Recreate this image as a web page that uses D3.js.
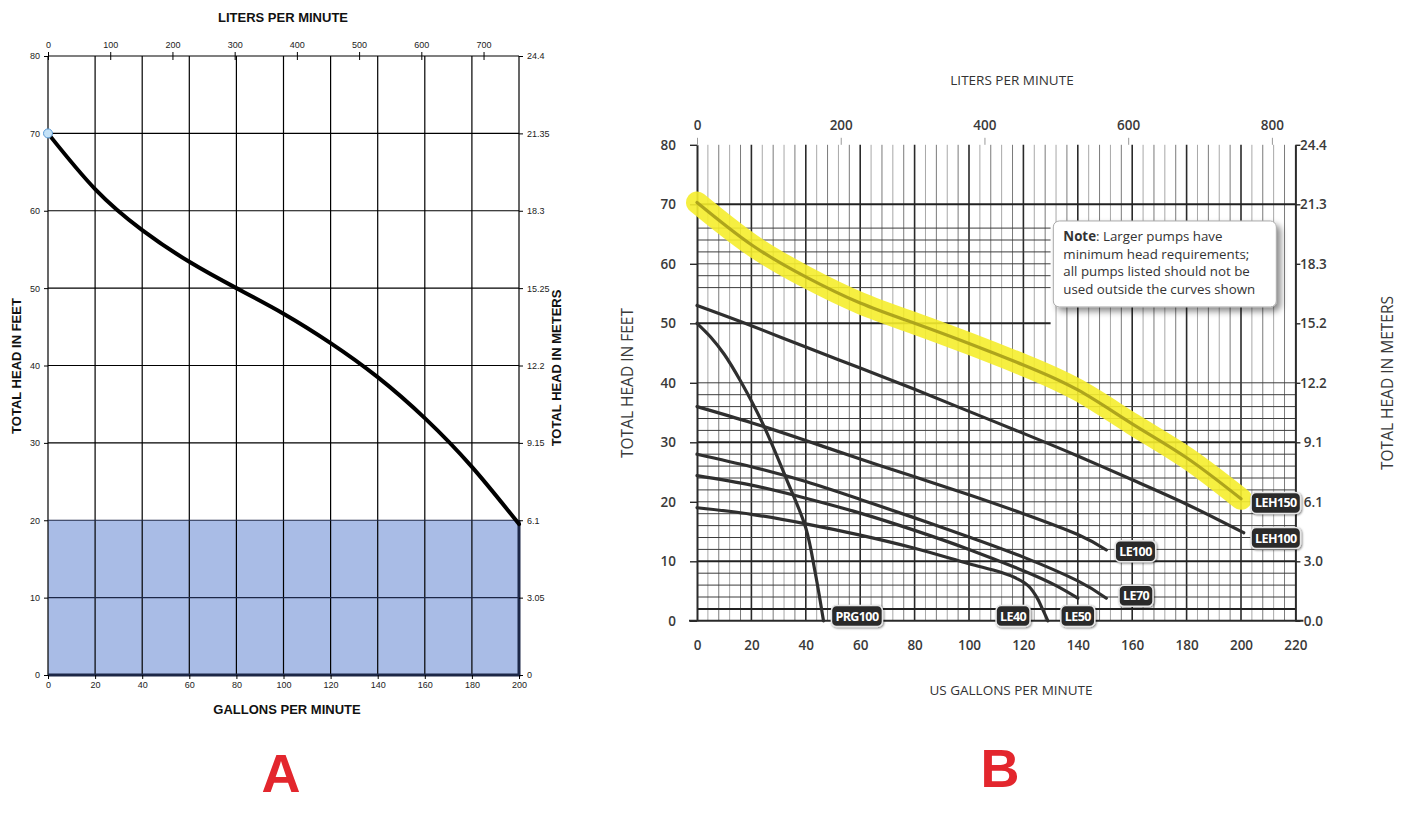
<!DOCTYPE html>
<html lang="en">
<head>
<meta charset="UTF-8">
<title>Pump performance curves</title>
<script src="https://d3js.org/d3.v7.min.js"></script>
<style>
  body { margin: 0; background: #fff; }
  svg { display: block; }
  .a-txt { font-family: Arial, "Liberation Sans", sans-serif; font-size: 9px; fill: #222; }
  .a-title { font-family: Arial, "Liberation Sans", sans-serif; font-size: 13px; font-weight: bold; fill: #111; }
  .b-txt { font-family: "Open Sans", sans-serif; font-size: 13.5px; font-weight: 600; fill: #3a3a3a; }
  .b-title { font-family: "Open Sans", sans-serif; font-size: 13.5px; fill: #333; }
  .b-vtitle { font-family: "Open Sans", sans-serif; font-size: 15.5px; fill: #3a3a3a; }
  .tag { font-family: "Open Sans", sans-serif; font-size: 12.5px; font-weight: 700; fill: #fff; letter-spacing: -0.6px; }
  .note { font-family: "Open Sans", sans-serif; font-size: 13.3px; fill: #333; }
  .big { font-family: Arial, "Liberation Sans", sans-serif; font-size: 54px; font-weight: bold; fill: #e3262d; }
</style>
</head>
<body>
<svg id="chart" width="1422" height="826"></svg>
<script>
const LITERS_PER_GAL = 3.785;

// ---------- chart A ----------
const gpmTicksA = [0, 20, 40, 60, 80, 100, 120, 140, 160, 180, 200];
const headTicksA = [0, 10, 20, 30, 40, 50, 60, 70, 80];
const litersTicksA = [0, 100, 200, 300, 400, 500, 600, 700];
const metersLabelsA = ["0", "3.05", "6.1", "9.15", "12.2", "15.25", "18.3", "21.35", "24.4"];
const curveGpmA = [0, 20, 40, 60, 80, 100, 120, 140, 160, 180, 200];
const curveHeadA = [70, 62.8, 57.5, 53.4, 50, 46.7, 42.9, 38.5, 33.2, 26.9, 19.5];
const minHeadA = 20;

// ---------- chart B ----------
const gpmTicksB = [0, 20, 40, 60, 80, 100, 120, 140, 160, 180, 200, 220];
const headTicksB = [0, 10, 20, 30, 40, 50, 60, 70, 80];
const litersTicksB = [0, 200, 400, 600, 800];
const metersLabelsB = ["0.0", "3.0", "6.1", "9.1", "12.2", "15.2", "18.3", "21.3", "24.4"];

const leh150Gpm = [0, 20, 40, 60, 80, 100, 120, 140, 160, 180, 200];
const leh150Head = [70.3, 63.2, 57.8, 53.4, 50, 46.6, 43, 38.8, 33.1, 27.4, 20.5];
const leh100Gpm = [0, 20, 40, 60, 80, 100, 120, 140, 160, 180, 201];
const leh100Head = [53, 49.6, 46, 42.5, 38.9, 35.2, 31.5, 27.7, 23.7, 19.6, 14.8];
const prg100Gpm = [0, 5, 10, 16, 24, 33, 40, 43.5, 46.5];
const prg100Head = [50, 47.7, 44.8, 40.3, 33.3, 23.7, 15.6, 8, 0];
const le100Gpm = [0, 20, 40, 60, 80, 100, 120, 140, 150.5];
const le100Head = [36, 33.3, 30.3, 27.2, 24.2, 21.2, 18.0, 14.5, 11.9];
const le70Gpm = [0, 20, 40, 60, 80, 100, 120, 140, 150.5];
const le70Head = [28, 25.9, 23.4, 20.4, 17.3, 14.1, 10.7, 6.7, 3.8];
const le50Gpm = [0, 20, 40, 60, 80, 100, 120, 132, 140];
const le50Head = [24.4, 22.8, 20.6, 18.1, 15.2, 12, 8.4, 5.9, 3.8];
const le40Gpm = [0, 20, 40, 60, 80, 100, 112, 118, 122, 125, 127, 129];
const le40Head = [19, 17.9, 16.3, 14.4, 12.2, 9.6, 8.1, 7.0, 5.8, 3.9, 2, 0];

const pumpNames = ["LEH150", "LEH100", "PRG100", "LE100", "LE70", "LE50", "LE40"];
const pumpGpm = [leh150Gpm, leh100Gpm, prg100Gpm, le100Gpm, le70Gpm, le50Gpm, le40Gpm];
const pumpHead = [leh150Head, leh100Head, prg100Head, le100Head, le70Head, le50Head, le40Head];
// where each name tag sits, in gpm / feet
const tagGpm = [212.8, 212.8, 58.8, 161.2, 161.4, 140, 116.2];
const tagHead = [19.8, 13.9, 0.8, 11.7, 4.2, 0.8, 0.8];

const noteLines = ["Larger pumps have", "minimum head requirements;", "all pumps listed should not be", "used outside the curves shown"];

const svg = d3.select("#chart");

const defs = svg.append("defs");
const sh = defs.append("filter").attr("id", "shadow").attr("x", "-20%").attr("y", "-20%").attr("width", "150%").attr("height", "160%");
sh.append("feDropShadow").attr("dx", 4).attr("dy", 4).attr("stdDeviation", 3).attr("flood-color", "#000").attr("flood-opacity", 0.45);
const sh2 = defs.append("filter").attr("id", "tagshadow").attr("x", "-20%").attr("y", "-30%").attr("width", "150%").attr("height", "170%");
sh2.append("feDropShadow").attr("dx", 1).attr("dy", 1).attr("stdDeviation", 1.2).attr("flood-color", "#000").attr("flood-opacity", 0.5);

// ================= chart A =================
const A = { left: 48, right: 519, top: 56, bottom: 675 };
const xA = d3.scaleLinear().domain([0, 200]).range([A.left, A.right]);
const yA = d3.scaleLinear().domain([0, 80]).range([A.bottom, A.top]);
const lA = d3.scaleLinear().domain([0, 200 * LITERS_PER_GAL]).range([A.left, A.right]);

const gA = svg.append("g");

gA.append("rect")
  .attr("x", xA(0)).attr("y", yA(minHeadA))
  .attr("width", xA(200) - xA(0)).attr("height", yA(0) - yA(minHeadA))
  .attr("fill", "#a9bce6");

gA.selectAll(".vgA").data(gpmTicksA).join("line")
  .attr("x1", d => xA(d)).attr("x2", d => xA(d))
  .attr("y1", yA(80)).attr("y2", yA(0))
  .attr("stroke", "#000").attr("stroke-width", 1.2);
gA.selectAll(".hgA").data(headTicksA).join("line")
  .attr("x1", xA(0)).attr("x2", xA(200))
  .attr("y1", d => yA(d)).attr("y2", d => yA(d))
  .attr("stroke", d => d <= minHeadA ? "#1c2747" : "#000").attr("stroke-width", 1.2);

// heavy outline on the shaded band
gA.append("path")
  .attr("d", `M${xA(0)},${yA(0)}H${xA(200)}V${yA(minHeadA)}`)
  .attr("fill", "none").attr("stroke", "#1c2747").attr("stroke-width", 3);

const lineA = d3.line().x(d => xA(d[0])).y(d => yA(d[1])).curve(d3.curveNatural);
gA.append("path")
  .datum(d3.zip(curveGpmA, curveHeadA))
  .attr("d", lineA)
  .attr("fill", "none").attr("stroke", "#000").attr("stroke-width", 4).attr("stroke-linecap", "round");

function styleA(g) {
  g.select(".domain").remove();
  g.selectAll("line").attr("stroke", "#000");
  g.selectAll("text").attr("class", "a-txt").attr("font-size", null).attr("font-family", null);
}
gA.append("g").attr("transform", `translate(${A.left},0)`)
  .call(d3.axisLeft(yA).tickValues(headTicksA).tickSize(4).tickPadding(4)).call(styleA);
gA.append("g").attr("transform", `translate(${A.right},0)`)
  .call(d3.axisRight(yA).tickValues(headTicksA).tickSize(4).tickPadding(4)
    .tickFormat((d, i) => metersLabelsA[i])).call(styleA);
gA.append("g").attr("transform", `translate(0,${A.bottom})`)
  .call(d3.axisBottom(xA).tickValues(gpmTicksA).tickSize(4).tickPadding(3)).call(styleA);
gA.append("g").attr("transform", `translate(0,${A.top})`)
  .call(d3.axisTop(lA).tickValues(litersTicksA).tickSize(4).tickPadding(4)).call(styleA)
  .selectAll(".tick line").attr("y1", 4);

gA.append("circle")
  .attr("cx", xA(curveGpmA[0])).attr("cy", yA(curveHeadA[0])).attr("r", 4.5)
  .attr("fill", "#c4e2f7").attr("stroke", "#5b9bd5").attr("stroke-width", 1);

gA.append("text").attr("class", "a-title").attr("x", 283).attr("y", 22).attr("text-anchor", "middle").text("LITERS PER MINUTE");
gA.append("text").attr("class", "a-title").attr("x", 287).attr("y", 714).attr("text-anchor", "middle").text("GALLONS PER MINUTE");
gA.append("text").attr("class", "a-title").attr("text-anchor", "middle")
  .attr("transform", "translate(21,366) rotate(-90)").text("TOTAL HEAD IN FEET");
gA.append("text").attr("class", "a-title").attr("text-anchor", "middle")
  .attr("transform", "translate(561,368) rotate(-90)").text("TOTAL HEAD IN METERS");

svg.append("text").attr("class", "big").attr("x", 281).attr("y", 792).attr("text-anchor", "middle").text("A");

// ================= chart B =================
const B = { left: 697, right: 1295.4, top: 144.8, bottom: 620.8 };
const xB = d3.scaleLinear().domain([0, 220]).range([B.left, B.right]);
const yB = d3.scaleLinear().domain([0, 80]).range([B.bottom, B.top]);
const lB = d3.scaleLinear().domain([0, 220 * LITERS_PER_GAL]).range([B.left, B.right]);

const gB = svg.append("g");

// vertical grid: every 4 gpm, darker every 20
const vMinor = d3.range(4, 220, 4).filter(d => d % 20 !== 0);
gB.selectAll(".vmB").data(vMinor).join("line")
  .attr("x1", d => xB(d)).attr("x2", d => xB(d))
  .attr("y1", yB(80)).attr("y2", yB(0))
  .attr("stroke", (d, i) => i % 2 ? "#7a7a7a" : "#a8a8a8").attr("stroke-width", 1);
gB.selectAll(".vMB").data(gpmTicksB.slice(1, -1)).join("line")
  .attr("x1", d => xB(d)).attr("x2", d => xB(d))
  .attr("y1", yB(80)).attr("y2", yB(0))
  .attr("stroke", "#2a2a2a").attr("stroke-width", 1.6);

// horizontal grid: every 2 ft up to 40, band 56-66, plus 50 and 70
const hFull = d3.range(2, 41, 2).concat([70]);
const hShort = d3.range(56, 67, 2).concat([50]);
const hMajor = [2, 10, 30, 50, 70];
gB.selectAll(".hfB").data(hFull).join("line")
  .attr("x1", xB(0)).attr("x2", xB(220))
  .attr("y1", d => yB(d)).attr("y2", d => yB(d))
  .attr("stroke", d => hMajor.includes(d) ? "#222" : "#3c3c3c")
  .attr("stroke-width", d => hMajor.includes(d) ? 2 : 1);
gB.selectAll(".hsB").data(hShort).join("line")
  .attr("x1", xB(0)).attr("x2", xB(130))
  .attr("y1", d => yB(d)).attr("y2", d => yB(d))
  .attr("stroke", d => hMajor.includes(d) ? "#222" : "#3c3c3c")
  .attr("stroke-width", d => hMajor.includes(d) ? 2 : 1);

function styleB(g) {
  g.select(".domain").attr("stroke", "#2a2a2a").attr("stroke-width", 2);
  g.selectAll(".tick line").attr("stroke", "#2a2a2a").attr("stroke-width", 1.4);
  g.selectAll("text").attr("class", "b-txt").attr("font-size", null).attr("font-family", null);
}
gB.append("g").attr("transform", `translate(${B.left},0)`)
  .call(d3.axisLeft(yB).tickValues(headTicksB).tickSize(7).tickSizeOuter(0).tickPadding(14)).call(styleB);
gB.append("g").attr("transform", `translate(${B.right},0)`)
  .call(d3.axisRight(yB).tickValues(headTicksB).tickSize(5).tickSizeOuter(0).tickPadding(4)
    .tickFormat((d, i) => metersLabelsB[i])).call(styleB)
  .selectAll(".tick text").attr("text-anchor", "middle").attr("x", 18);
gB.append("g").attr("transform", `translate(0,${B.bottom})`)
  .call(d3.axisBottom(xB).tickValues(gpmTicksB).tickSize(0).tickPadding(20)).call(styleB)
  .select(".domain").attr("d", `M${B.left - 8},0H${B.right + 8}`);
const topAx = gB.append("g").attr("transform", `translate(0,${B.top})`)
  .call(d3.axisTop(lB).tickValues(litersTicksB).tickSize(7).tickPadding(8)).call(styleB);
topAx.select(".domain").remove();
topAx.selectAll(".tick line").attr("stroke", "#999").attr("stroke-width", 1);

// note box
const note = gB.append("g").attr("transform", `translate(${xB(131)},${yB(67.2)})`);
note.append("rect").attr("width", 223).attr("height", 86).attr("rx", 6)
  .attr("fill", "#fff").attr("stroke", "#aaa").attr("stroke-width", 1).attr("filter", "url(#shadow)");
const nt = note.append("text").attr("class", "note").attr("x", 10).attr("y", 20);
noteLines.forEach((t, i) => {
  const ts = nt.append("tspan").attr("x", 10).attr("dy", i === 0 ? 0 : 17.6);
  if (i === 0) {
    ts.append("tspan").attr("font-weight", 700).text("Note");
    ts.append("tspan").text(": " + t);
  } else ts.text(t);
});

// curves
const lineB = d3.line().x(d => xB(d[0])).y(d => yB(d[1])).curve(d3.curveNatural);
const lineBy = d3.line().x(d => xB(d[0])).y(d => yB(d[1])).curve(d3.curveCatmullRom);
gB.append("path")
  .datum(d3.zip(pumpGpm[0], pumpHead[0]))
  .attr("d", lineB).attr("fill", "none")
  .attr("stroke", "#f5ed2c").attr("stroke-opacity", 0.9).attr("stroke-width", 22).attr("stroke-linecap", "round");

pumpNames.forEach((name, i) => {
  const pts = d3.zip(pumpGpm[i], pumpHead[i]);
  gB.append("path").datum(pts)
    .attr("d", name === "PRG100" || name === "LE40" ? lineBy : lineB)
    .attr("fill", "none")
    .attr("stroke", i === 0 ? "#aea51c" : "#2f2f2f")
    .attr("stroke-width", 3.2).attr("stroke-linecap", "round");
});

// name tags
pumpNames.forEach((name, i) => {
  const g = gB.append("g").attr("transform", `translate(${xB(tagGpm[i])},${yB(tagHead[i])})`);
  const t = g.append("text").attr("class", "tag").attr("text-anchor", "middle").attr("dy", "0.36em").text(name);
  const w = t.node().getComputedTextLength() + 8;
  g.insert("rect", "text")
    .attr("x", -w / 2).attr("y", -10.5).attr("width", w).attr("height", 21).attr("rx", 5)
    .attr("fill", "#2b2b2b").attr("stroke", "#e6e6e6").attr("stroke-width", 1.5)
    .attr("filter", "url(#tagshadow)");
});

gB.append("text").attr("class", "b-title").attr("x", 1012).attr("y", 85).attr("text-anchor", "middle").text("LITERS PER MINUTE");
gB.append("text").attr("class", "b-title").attr("x", 1011).attr("y", 695).attr("text-anchor", "middle").text("US GALLONS PER MINUTE");
gB.append("text").attr("class", "b-vtitle").attr("text-anchor", "middle")
  .attr("transform", "translate(633,383) rotate(-90)").text("TOTAL HEAD IN FEET");
gB.append("text").attr("class", "b-vtitle").attr("text-anchor", "middle")
  .attr("transform", "translate(1393,383) rotate(-90)").text("TOTAL HEAD IN METERS");

svg.append("text").attr("class", "big").attr("x", 1000).attr("y", 787).attr("text-anchor", "middle").text("B");
</script>
</body>
</html>
